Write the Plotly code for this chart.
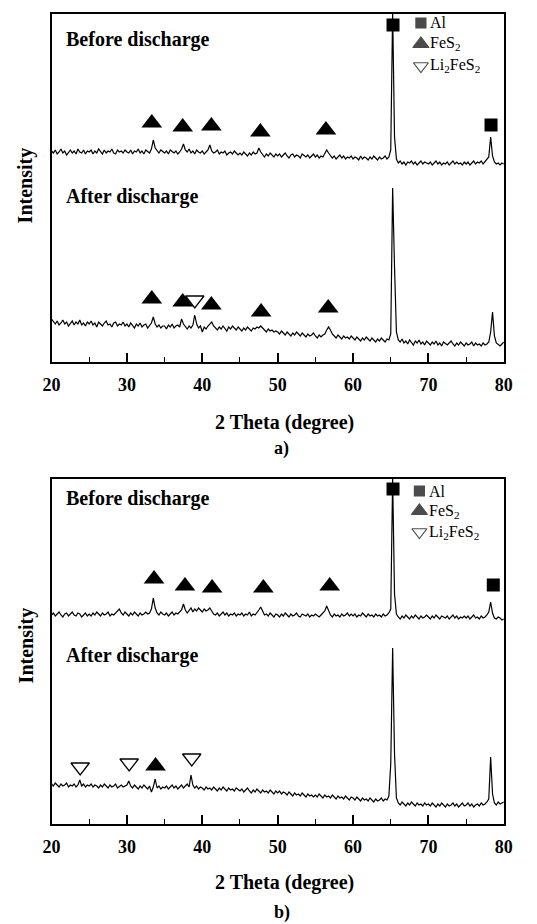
import numpy as np
import plotly.graph_objects as go

# ---------------- data ----------------
two_theta_start = 20.0
two_theta_step = 0.25
n_points = 241

# panel a) intensity (a.u.)
a_before = [
    211, 209, 212, 208, 210, 213, 209, 211, 207, 210, 212, 209, 211, 208, 213, 210, 209, 212, 208, 211,
    210, 212, 208, 211, 209, 213, 210, 208, 212, 209, 211, 210, 213, 209, 208, 212, 210, 211, 209, 212,
    210, 209, 212, 208, 211, 210, 213, 209, 211, 208, 212, 210, 209, 213, 222, 214, 211, 209, 212, 210,
    209, 211, 208, 212, 210, 209, 211, 208, 210, 213, 218, 212, 210, 213, 209, 211, 208, 212, 210, 209,
    211, 208, 210, 212, 217, 211, 209, 210, 212, 208, 210, 209, 211, 207, 209, 210, 208, 211, 209, 207,
    209, 207, 210, 208, 206, 209, 207, 210, 208, 209, 214, 210, 207, 205, 208, 206, 209, 207, 205, 208,
    206, 208, 205, 207, 209, 206, 204, 207, 208, 205, 207, 206, 204, 208, 206, 205, 207, 204, 206, 208,
    205, 207, 204, 206, 205, 208, 212, 209, 206, 204, 206, 203, 205, 207, 204, 206, 203, 205, 204, 206,
    203, 205, 204, 202, 206, 203, 205, 204, 202, 205, 203, 206, 204, 202, 205, 203, 204, 206, 203, 205,
    212, 350, 225, 203, 199, 201, 198, 200, 197, 200, 199, 201, 198, 200, 197, 199, 201, 198, 200, 199,
    198, 200, 197, 199, 201, 198, 200, 197, 199, 198, 200, 197, 199, 201, 198, 200, 198, 199, 197, 200,
    198, 200, 197, 199, 201, 198, 200, 199, 201, 198, 200, 202, 205, 225, 206, 200, 198, 199, 197, 199,
    198,
]
a_after = [
    43, 40, 38, 41, 37, 39, 42, 38, 40, 36, 39, 41, 37, 40, 38, 42, 37, 39, 36, 40,
    38, 41, 37, 39, 35, 40, 38, 36, 39, 41, 37, 38, 35, 39, 40, 36, 38, 37, 40, 36,
    38, 35, 39, 37, 34, 38, 36, 39, 35, 37, 38, 34, 36, 39, 45, 38, 35, 37, 34, 36,
    36, 33, 37, 35, 38, 34, 36, 37, 35, 43, 38, 35, 33, 36, 34, 37, 47, 38, 34, 36,
    30, 35, 33, 36, 38, 40, 36, 34, 32, 35, 33, 36, 34, 31, 35, 33, 36, 34, 32, 35,
    33, 31, 34, 32, 35, 33, 31, 34, 33, 35, 34, 36, 34, 32, 30, 33, 31, 32, 30, 31,
    30, 28, 31, 29, 27, 30, 28, 26, 29, 27, 30, 28, 26, 29, 27, 25, 28, 26, 27, 29,
    26, 24, 27, 25, 27, 28, 32, 35, 32, 28, 26, 24, 27, 25, 23, 26, 24, 25, 23, 26,
    24, 22, 25, 23, 21, 24, 22, 25, 23, 21, 24, 22, 20, 23, 21, 24, 22, 20, 23, 22,
    28, 174, 95, 30, 22, 20, 23, 19, 21, 18, 22, 20, 17, 21, 19, 22, 18, 20, 17, 21,
    19, 17, 20, 18, 21, 17, 19, 16, 20, 18, 17, 19, 21, 18, 16, 19, 17, 20, 18, 16,
    19, 17, 18, 20, 16, 19, 17, 18, 16, 19, 17, 18, 20, 30, 50, 26, 19, 17, 16, 18,
    20,
]

# panel b) intensity (a.u.)
b_before = [
    209, 211, 208, 210, 212, 209, 207, 210, 211, 208, 210, 212, 209, 208, 211, 210, 207, 209, 211, 208,
    210, 208, 211, 209, 212, 210, 208, 211, 209, 210, 212, 208, 210, 209, 211, 213, 215, 211, 209, 212,
    210, 208, 211, 209, 212, 210, 208, 211, 209, 210, 212, 210, 211, 215, 226, 216, 211, 209, 212, 210,
    209, 211, 208, 210, 212, 209, 211, 210, 212, 214, 220, 214, 211, 213, 216, 212, 215, 213, 216, 214,
    212, 215, 213, 214, 216, 213, 210, 209, 211, 208, 210, 212, 209, 211, 208, 210, 209, 211, 208, 210,
    209, 211, 208, 210, 209, 212, 208, 210, 209, 211, 214, 217, 212, 209, 210, 208, 211, 209, 207, 210,
    209, 207, 210, 208, 211, 209, 207, 210, 208, 209, 211, 208, 207, 210, 209, 208, 210, 207, 209, 208,
    210, 208, 207, 209, 211, 213, 218, 213, 209, 207, 210, 208, 209, 207, 210, 208, 209, 211, 208, 210,
    208, 210, 207, 209, 208, 211, 209, 207, 210, 208, 209, 207, 210, 208, 209, 207, 210, 208, 209, 211,
    215, 345, 230, 210, 207, 205, 208, 206, 209, 207, 205, 208, 206, 209, 207, 205, 208, 206, 207, 209,
    207, 205, 208, 206, 209, 207, 205, 208, 207, 206, 208, 205, 207, 209, 206, 208, 205, 207, 206, 208,
    206, 208, 205, 207, 209, 206, 207, 205, 208, 206, 207, 209, 212, 222, 211, 206, 205, 207, 206, 204,
    205,
]
b_after = [
    40, 38, 41, 39, 37, 40, 38, 39, 41, 37, 39, 38, 40, 37, 39, 44, 38, 40, 37, 39,
    38, 40, 37, 39, 38, 36, 39, 37, 40, 38, 36, 39, 37, 38, 40, 36, 38, 39, 37, 38,
    39, 43, 38, 36, 39, 37, 35, 38, 36, 39, 37, 35, 38, 32, 37, 45, 36, 38, 35, 37,
    36, 38, 35, 37, 39, 36, 38, 35, 37, 39, 36, 38, 40, 37, 49, 39, 36, 38, 35, 37,
    36, 34, 37, 35, 36, 34, 37, 35, 33, 36, 34, 37, 35, 33, 36, 34, 35, 33, 36, 34,
    33, 35, 32, 34, 36, 33, 31, 34, 32, 35, 33, 31, 34, 32, 33, 31, 34, 32, 30, 33,
    31, 33, 30, 32, 31, 29, 32, 30, 28, 31, 29, 30, 28, 31, 29, 27, 30, 28, 29, 27,
    29, 27, 30, 28, 26, 29, 27, 28, 26, 29, 27, 25, 28, 26, 27, 25, 28, 26, 24, 27,
    26, 24, 27, 25, 23, 26, 24, 25, 23, 26, 24, 22, 25, 23, 24, 26, 23, 25, 24, 28,
    60, 176, 70, 26, 21, 19, 22, 20, 18, 21, 19, 22, 20, 18, 21, 19, 20, 18, 21, 19,
    20, 18, 21, 19, 17, 20, 18, 21, 19, 17, 20, 18, 19, 21, 18, 20, 17, 19, 21, 18,
    19, 21, 18, 20, 17, 19, 20, 18, 21, 19, 20, 22, 25, 67, 30, 21, 19, 22, 20, 21,
    22,
]

# phase markers (2theta, intensity)
a_before_fes2_x = [33.3, 37.4, 41.2, 47.7, 56.4]
a_before_fes2_y = [239, 235, 236, 230, 232]
a_before_al_x = [65.3, 78.3]
a_before_al_y = [337, 237]
a_after_fes2_x = [33.3, 37.4, 41.2, 47.8, 56.7]
a_after_fes2_y = [63, 60, 57, 50, 54]
a_after_li_x = [39.0]
a_after_li_y = [62]

b_before_fes2_x = [33.6, 37.7, 41.3, 48.1, 56.9]
b_before_fes2_y = [245, 238, 236, 236, 238]
b_before_al_x = [65.3, 78.6]
b_before_al_y = [335, 239]
b_after_fes2_x = [33.8]
b_after_fes2_y = [58]
b_after_li_x = [23.8, 30.3, 38.6]
b_after_li_y = [57, 61, 66]

legend_labels = ["Al", "FeS<sub>2</sub>", "Li<sub>2</sub>FeS<sub>2</sub>"]
a_legend_x = [69.0, 69.0, 69.0]
a_legend_y = [339, 318, 296]
b_legend_x = [68.8, 68.8, 68.8]
b_legend_y = [333, 313, 292]

x_ticks = [20, 30, 40, 50, 60, 70, 80]
tick_labels = ["20", "30", "40", "50", "60", "70", "80"]

# ---------------- figure ----------------
two_theta = two_theta_start + two_theta_step * np.arange(n_points)

W, H = 537, 924
FONT = "Liberation Serif"
fig = go.Figure()

def px2paper_x(px):
    return px / W

def px2paper_y(py):
    return 1 - py / H

panels = [
    dict(xa="x", ya="y", before=a_before, after=a_after,
         bf_x=a_before_fes2_x, bf_y=a_before_fes2_y, bal_x=a_before_al_x, bal_y=a_before_al_y,
         af_x=a_after_fes2_x, af_y=a_after_fes2_y, ali_x=a_after_li_x, ali_y=a_after_li_y,
         lg_x=a_legend_x, lg_y=a_legend_y),
    dict(xa="x2", ya="y2", before=b_before, after=b_after,
         bf_x=b_before_fes2_x, bf_y=b_before_fes2_y, bal_x=b_before_al_x, bal_y=b_before_al_y,
         af_x=b_after_fes2_x, af_y=b_after_fes2_y, ali_x=b_after_li_x, ali_y=b_after_li_y,
         lg_x=b_legend_x, lg_y=b_legend_y),
]

tri_style = dict(symbol="triangle-up", size=18, color="black", line=dict(width=0))
sq_style = dict(symbol="square", size=13, color="black", line=dict(width=0))
dtri_style = dict(symbol="triangle-down-open", size=16, color="black", line=dict(width=1.3, color="black"))

for p in panels:
    xa, ya = p["xa"], p["ya"]
    for ser in (p["before"], p["after"]):
        fig.add_trace(go.Scatter(x=two_theta, y=ser, mode="lines", xaxis=xa, yaxis=ya,
                                 line=dict(color="black", width=1.2), showlegend=False,
                                 hoverinfo="skip"))
    fig.add_trace(go.Scatter(x=p["bf_x"] + p["af_x"], y=p["bf_y"] + p["af_y"], mode="markers",
                             xaxis=xa, yaxis=ya, marker=tri_style, showlegend=False, cliponaxis=False))
    fig.add_trace(go.Scatter(x=p["bal_x"], y=p["bal_y"], mode="markers",
                             xaxis=xa, yaxis=ya, marker=sq_style, showlegend=False, cliponaxis=False))
    fig.add_trace(go.Scatter(x=p["ali_x"], y=p["ali_y"], mode="markers",
                             xaxis=xa, yaxis=ya, marker=dtri_style, showlegend=False, cliponaxis=False))
    # legend symbols
    fig.add_trace(go.Scatter(x=p["lg_x"], y=p["lg_y"], mode="markers", xaxis=xa, yaxis=ya,
                             marker=dict(symbol=["square", "triangle-up", "triangle-down-open"],
                                         size=[10, 14, 13], color="black",
                                         line=dict(width=1.2, color="black")),
                             showlegend=False, cliponaxis=False))
    for lx, ly, lab in zip(p["lg_x"], p["lg_y"], legend_labels):
        fig.add_annotation(x=lx + 1.0, y=ly, xref=xa, yref=ya, text=lab, showarrow=False,
                           xanchor="left", yanchor="middle",
                           font=dict(family=FONT, size=16, color="black"))

axis_common = dict(
    showline=True, linecolor="black", linewidth=1.5, mirror=True,
    showgrid=False, zeroline=False,
)
xaxis_common = dict(axis_common, range=[20, 80], tickmode="array", tickvals=x_ticks,
                    ticktext=["<b>%s</b>" % t for t in tick_labels], ticks="inside",
                    ticklen=9, tickwidth=1.5, tickcolor="black", ticklabelstandoff=6,
                    minor=dict(ticks="inside", ticklen=5, tickwidth=1.2, dtick=5, tick0=20,
                               tickcolor="black"),
                    tickfont=dict(family=FONT, size=18, color="black"))
yaxis_common = dict(axis_common, showticklabels=False, ticks="")

xd = [px2paper_x(44), px2paper_x(512)]
fig.update_layout(
    width=W, height=H, margin=dict(l=0, r=0, t=0, b=0),
    paper_bgcolor="white", plot_bgcolor="white",
    xaxis=dict(xaxis_common, domain=xd, anchor="y"),
    yaxis=dict(yaxis_common, domain=[px2paper_y(362), px2paper_y(14)], range=[0, 348], anchor="x"),
    xaxis2=dict(xaxis_common, domain=xd, anchor="y2"),
    yaxis2=dict(yaxis_common, domain=[px2paper_y(824), px2paper_y(479)], range=[0, 345], anchor="x2"),
)

def text(xpx, ypx, s, size, anchor="center", angle=0):
    fig.add_annotation(x=px2paper_x(xpx), y=px2paper_y(ypx), xref="paper", yref="paper",
                       text="<b>%s</b>" % s, showarrow=False, xanchor=anchor, yanchor="middle",
                       textangle=angle, font=dict(family=FONT, size=size, color="black"))

text(57, 39, "Before discharge", 20, "left")
text(57, 196, "After discharge", 20, "left")
text(57, 499, "Before discharge", 20, "left")
text(57, 655, "After discharge", 20, "left")
text(18, 185, "Intensity", 20, "center", -90)
text(18, 645, "Intensity", 20, "center", -90)
text(285, 422, "2 Theta (degree)", 20)
text(282, 449, "a)", 18)
text(285, 882, "2 Theta (degree)", 20)
text(282, 912, "b)", 18)

fig.write_html("out.html")
